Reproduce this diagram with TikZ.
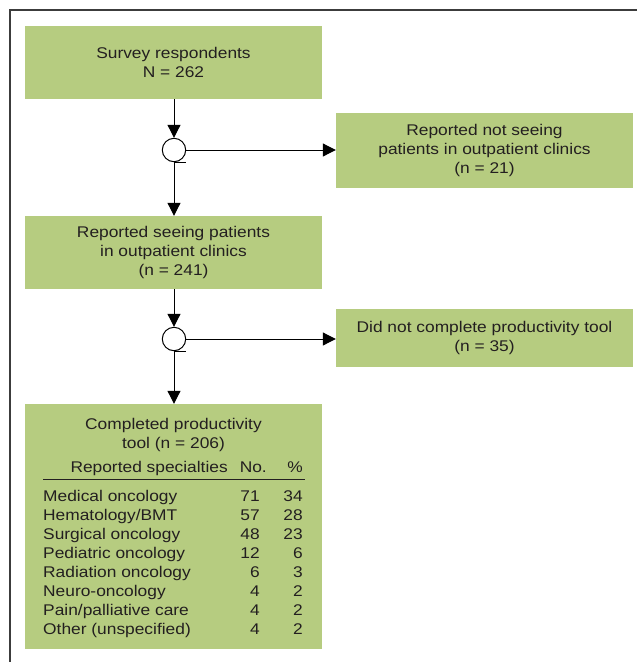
\documentclass[tikz,border=0pt]{standalone}
\usepackage{fontspec}
\setmainfont{Liberation Sans}[FakeStretch=1.12]
\usetikzlibrary{arrows.meta}
\definecolor{boxgreen}{RGB}{182,204,128}
\definecolor{txt}{RGB}{35,31,32}
\definecolor{frm}{RGB}{60,60,60}
\tikzset{
  fbox/.style={fill=boxgreen, draw=none, minimum width=297pt, align=center, inner sep=0pt, text=txt,
    font={\fontsize{15.5}{19.2}\selectfont}},
  junc/.style={circle, draw=black, fill=white, line width=1pt, minimum size=23.4pt, inner sep=0pt},
  arr/.style={line width=1pt, -{Triangle[length=13pt,width=13pt]}},
  conn/.style={line width=1pt},
  frameline/.style={draw=frm, line width=1.1pt},
  tcell/.style={inner sep=0pt, text=txt, font={\fontsize{15.5}{19.2}\selectfont}},
}
\begin{document}
\begin{tikzpicture}[x=1pt,y=-1pt]
\useasboundingbox (0,0) rectangle (637,662);
\draw[frameline] (10,662) -- (10,10) -- (637,10);

\node[fbox, minimum height=73pt] (b1) at (173.5,62.5) {Survey respondents\\N = 262};
\node[fbox, minimum height=75pt] (b2) at (484.5,150.5) {Reported not seeing\\patients in outpatient clinics\\(n = 21)};
\node[fbox, minimum height=73pt] (b3) at (173.5,252.5) {Reported seeing patients\\in outpatient clinics\\(n = 241)};
\node[fbox, minimum height=58pt] (b4) at (484.5,338) {Did not complete productivity tool\\(n = 35)};
\node[fbox, minimum height=245pt] (b5) at (173.5,526.5) {};

\node[junc] (j1) at (174,150) {};
\node[junc] (j2) at (174,339) {};

\draw[arr] (b1.south -| j1) -- (j1.north);
\draw[arr] (j1.east) -- (b2.west |- j1);
\draw[conn] (j1.south) -- ++(12,0);
\draw[arr] (j1.south) -- (b3.north -| j1);
\draw[arr] (b3.south -| j2) -- (j2.north);
\draw[arr] (j2.east) -- (b4.west |- j2);
\draw[conn] (j2.south) -- ++(12,0);
\draw[arr] (j2.south) -- (b5.north -| j2);

% table inside box 5
\node[tcell, align=center, anchor=base] (title) at (173.5,448.5) {Completed productivity\\tool (n = 206)};
\node[tcell, anchor=base east] (hs) at (228,472) {Reported specialties};
\node[tcell, anchor=base east] (hn) at (267,472) {No.};
\node[tcell, anchor=base east] (hp) at (303,472) {\%};
\coordinate (rl) at (43,479.5);
\coordinate (rr) at (305,479.5);
\draw[draw=txt, line width=1.3pt] (rl) -- (rr);

\foreach \lab/\no/\pc [count=\i] in {
  Medical oncology/71/34,
  Hematology\slash BMT/57/28,
  Surgical oncology/48/23,
  Pediatric oncology/12/6,
  Radiation oncology/6/3,
  Neuro-oncology/4/2,
  Pain\slash palliative care/4/2,
  Other (unspecified)/4/2}{
  \pgfmathsetmacro{\yy}{501+(\i-1)*19.1}
  \node[tcell, anchor=base west] (r\i l) at (43,\yy) {\lab};
  \node[tcell, anchor=base east] (r\i n) at (260,\yy) {\no};
  \node[tcell, anchor=base east] (r\i p) at (303,\yy) {\pc};
}
\end{tikzpicture}
\end{document}
